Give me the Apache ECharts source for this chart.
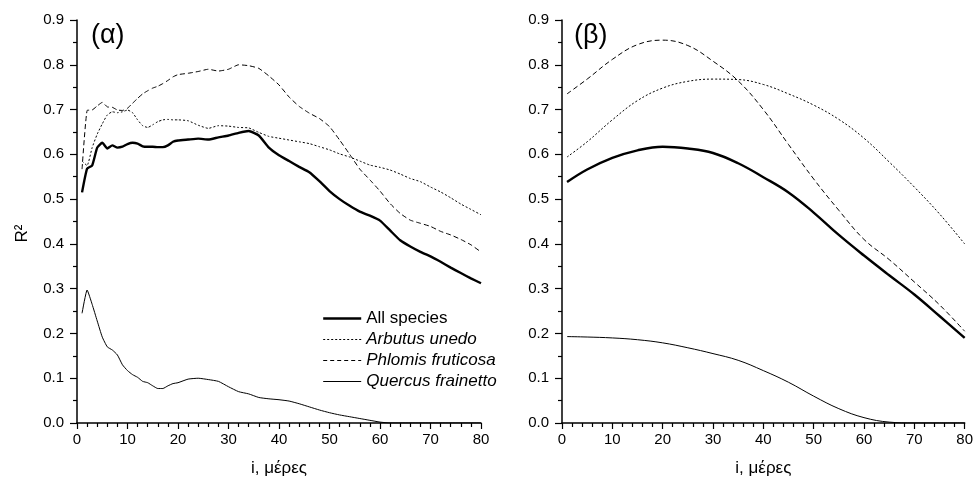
<!DOCTYPE html>
<html>
<head>
<meta charset="utf-8">
<script src="https://cdn.jsdelivr.net/npm/echarts@6.0.0/dist/echarts.min.js"></script>
<style>html,body{margin:0;padding:0;background:#fff}#c{width:976px;height:483px}</style>
</head>
<body>
<div id="c"></div>
<script>
const FONT = '"Liberation Sans", Arial, sans-serif';
const seriesNames = ['All species', 'Arbutus unedo', 'Phlomis fruticosa', 'Quercus frainetto'];
const panelLabels = ['(α)', '(β)'];
const xAxisTitle = 'i, μέρες';
const yAxisTitle = 'R²';

// Panel (α): daily index
const leftX = [1,2,3,4,5,6,7,8,9,10,11,12,13,14,15,16,17,18,19,20,
  22,24,26,28,30,32,34,36,38,40,42,44,46,48,50,52,54,56,58,60,62,64,66,68,70,72,74,76,78,80];
const leftAll = [0.515,0.568,0.575,0.615,0.626,0.613,0.620,0.615,0.617,0.623,0.626,0.624,0.618,0.617,0.617,0.616,0.616,0.620,0.628,0.631,
  0.633,0.635,0.633,0.638,0.642,0.648,0.652,0.642,0.615,0.598,0.585,0.572,0.560,0.540,0.518,0.500,0.485,0.472,0.463,0.452,0.430,0.408,0.394,0.382,0.372,0.360,0.347,0.335,0.323,0.312];
const leftArbutus = [0.585,0.575,0.615,0.645,0.668,0.688,0.695,0.693,0.695,0.699,0.693,0.677,0.664,0.660,0.666,0.673,0.677,0.678,0.677,0.677,
  0.675,0.665,0.658,0.664,0.663,0.660,0.659,0.649,0.640,0.636,0.632,0.628,0.624,0.617,0.610,0.601,0.594,0.585,0.576,0.571,0.565,0.556,0.546,0.539,0.527,0.516,0.503,0.489,0.477,0.465];
const leftPhlomis = [0.567,0.698,0.699,0.708,0.716,0.706,0.705,0.699,0.698,0.703,0.714,0.725,0.735,0.742,0.748,0.752,0.758,0.765,0.773,0.778,
  0.781,0.785,0.790,0.786,0.790,0.800,0.798,0.792,0.775,0.755,0.728,0.707,0.692,0.680,0.662,0.632,0.600,0.567,0.543,0.518,0.490,0.468,0.453,0.446,0.439,0.428,0.420,0.410,0.398,0.382];
const leftQuercus = [0.245,0.297,0.265,0.228,0.192,0.170,0.163,0.152,0.130,0.117,0.108,0.102,0.093,0.090,0.083,0.077,0.077,0.083,0.088,0.090,
  0.098,0.100,0.097,0.093,0.081,0.070,0.065,0.057,0.054,0.052,0.049,0.043,0.036,0.029,0.023,0.018,0.014,0.010,0.006,0.002,0,0,0,0,0,0,0,0,0,0];

// Panel (β)
const rightX = [1,5,10,15,20,25,30,35,40,45,50,55,60,65,70,75,80];
const rightAll = [0.538,0.566,0.592,0.609,0.617,0.613,0.603,0.580,0.549,0.515,0.470,0.420,0.374,0.330,0.287,0.239,0.190];
const rightArbutus = [0.594,0.628,0.677,0.720,0.748,0.763,0.768,0.767,0.756,0.735,0.710,0.678,0.636,0.583,0.527,0.467,0.400];
const rightPhlomis = [0.735,0.768,0.812,0.845,0.855,0.843,0.808,0.764,0.700,0.622,0.545,0.475,0.410,0.365,0.315,0.264,0.205];
const rightQuercus = [0.193,0.192,0.190,0.186,0.179,0.168,0.155,0.140,0.117,0.091,0.060,0.032,0.012,0.002,0,0,0];

const styles = [
  {width: 2.4, type: 'solid'},
  {width: 1, type: [2, 2]},
  {width: 1, type: [5, 3]},
  {width: 1, type: 'solid'}
];

function pairs(xs, ys) { return xs.map((x, i) => [x, ys[i]]); }

const grids = [
  {left: 77, top: 20, width: 404, height: 403},
  {left: 562, top: 20, width: 405, height: 403}
];

function xAx(i) {
  return {
    type: 'value', gridIndex: i, min: 0, max: 80, interval: 10,
    name: xAxisTitle, nameLocation: 'middle', nameGap: 37,
    nameTextStyle: {fontFamily: FONT, fontSize: 17, color: '#000'},
    axisLine: {show: true, lineStyle: {color: '#000', width: 1.5}},
    axisTick: {show: true, length: 6, lineStyle: {color: '#000', width: 1.2}},
    minorTick: {show: true, splitNumber: 5, length: 4, lineStyle: {color: '#000', width: 1.2}},
    axisLabel: {fontFamily: FONT, fontSize: 15, color: '#000', margin: 9},
    splitLine: {show: false}
  };
}
function yAx(i) {
  const a = {
    type: 'value', gridIndex: i, min: 0, max: 0.9, interval: 0.1,
    axisLine: {show: true, lineStyle: {color: '#000', width: 1.5}},
    axisTick: {show: true, length: 7, lineStyle: {color: '#000', width: 1.2}},
    minorTick: {show: true, splitNumber: 2, length: 4, lineStyle: {color: '#000', width: 1.2}},
    axisLabel: {fontFamily: FONT, fontSize: 15, color: '#000', margin: 13, formatter: v => v.toFixed(1)},
    splitLine: {show: false}
  };
  if (i === 0) {
    a.name = yAxisTitle; a.nameLocation = 'middle'; a.nameGap = 46; a.nameRotate = 90;
    a.nameTextStyle = {fontFamily: FONT, fontSize: 17, color: '#000', padding: [0, 24, 0, 0]};
  }
  return a;
}

const data = [
  [leftAll, leftArbutus, leftPhlomis, leftQuercus],
  [rightAll, rightArbutus, rightPhlomis, rightQuercus]
];
const xs = [leftX, rightX];
const series = [];
for (let p = 0; p < 2; p++) {
  for (let s = 0; s < 4; s++) {
    series.push({
      type: 'line', name: seriesNames[s], xAxisIndex: p, yAxisIndex: p,
      data: pairs(xs[p], data[p][s]), symbol: 'none', showSymbol: false, smooth: p === 1 ? 0.4 : 0.15,
      lineStyle: {color: '#000', width: styles[s].width, type: styles[s].type},
      itemStyle: {color: '#000'}, animation: false, silent: true
    });
  }
}

const legendDash = [{width: 2.4, type: 'solid'}, {width: 1, type: [2, 2]}, {width: 1, type: [4, 3]}, {width: 1, type: 'solid'}];

const chart = echarts.init(document.getElementById('c'), null, {renderer: 'canvas'});
chart.setOption({
  backgroundColor: '#fff',
  animation: false,
  title: [
    {text: panelLabels[0], left: 91, top: 22, padding: 0, textStyle: {fontFamily: FONT, fontSize: 27, fontWeight: 'normal', color: '#000'}},
    {text: panelLabels[1], left: 574, top: 22, padding: 0, textStyle: {fontFamily: FONT, fontSize: 27, fontWeight: 'normal', color: '#000'}}
  ],
  legend: {
    orient: 'vertical', left: 322, top: 310, padding: 0, itemGap: 4,
    itemWidth: 38, itemHeight: 14,
    itemStyle: {opacity: 0},
    textStyle: {fontFamily: FONT, fontSize: 17, color: '#000', lineHeight: 17},
    data: seriesNames.map((n, i) => ({
      name: n,
      lineStyle: {color: '#000', width: legendDash[i].width, type: legendDash[i].type},
      itemStyle: {opacity: 0},
      textStyle: i === 0 ? {} : {fontStyle: 'italic'}
    })),
    selectedMode: false
  },
  grid: grids,
  xAxis: [xAx(0), xAx(1)],
  yAxis: [yAx(0), yAx(1)],
  series: series
});
</script>
</body>
</html>
